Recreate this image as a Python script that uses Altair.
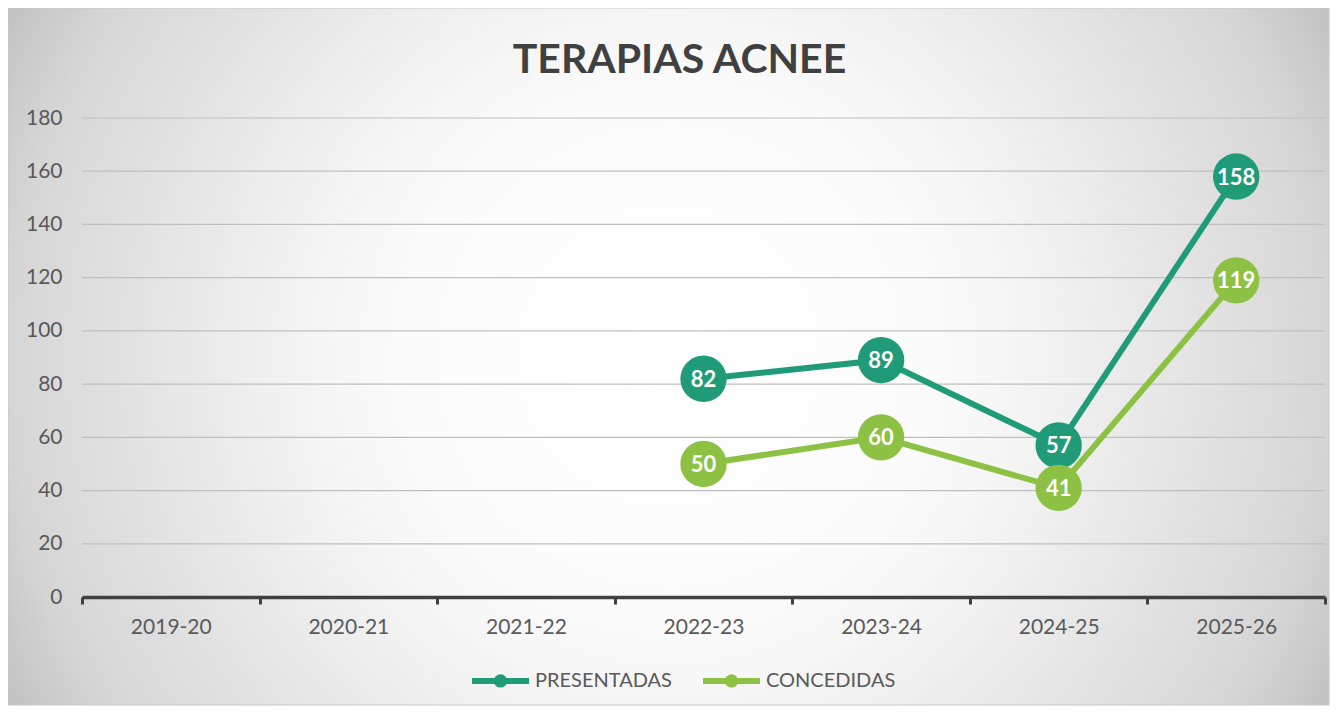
import altair as alt
import pandas as pd

years = ["2019-20", "2020-21", "2021-22", "2022-23", "2023-24", "2024-25", "2025-26"]
series = ["PRESENTADAS", "CONCEDIDAS"]
presentadas = [None, None, None, 82, 89, 57, 158]
concedidas = [None, None, None, 50, 60, 41, 119]
y_ticks = [0, 20, 40, 60, 80, 100, 120, 140, 160, 180]
colors = ["#1F9B78", "#8DC143"]

rows = []
for s, vals in zip(series, [presentadas, concedidas]):
    for yr, v in zip(years, vals):
        if v is not None:
            rows.append({"year": yr, "serie": s, "value": v})
df = pd.DataFrame(rows)
grid_df = pd.DataFrame({"value": y_ticks[1:]})

W, H = 1243, 479
PL, PT, PR, PB = 74, 110, 5, 109
FONT = "Lato"
LABEL = "#595959"

xscale = alt.Scale(type="band", domain=years, paddingInner=0, paddingOuter=0)
yscale = alt.Scale(domain=[0, 180], nice=False)
cscale = alt.Scale(domain=series, range=colors)

x_axis = alt.Axis(
    title=None, labelAngle=0, grid=False, domainColor="#404040", domainWidth=3.5,
    tickColor="#404040", tickWidth=3, tickSize=7, tickBand="extent",
    labelPadding=12, labelFont=FONT, labelFontSize=21, labelColor=LABEL, zindex=1,
)
y_axis = alt.Axis(
    title=None, values=y_ticks, grid=False, domain=False, ticks=False,
    labelPadding=20, labelFont=FONT, labelFontSize=21, labelColor=LABEL, zindex=1,
)

sym_path = "M-1,0L1,0M0.13,0A0.13,0.13,0,1,1,-0.13,0A0.13,0.13,0,1,1,0.13,0Z"
legend = alt.Legend(
    title=None, orient="none", legendX=387, legendY=531, direction="horizontal",
    symbolType=sym_path, symbolSize=3249, symbolStrokeWidth=6,
    labelFont=FONT, labelFontSize=20, labelColor=LABEL, labelOffset=3,
    columnPadding=19, zindex=1,
)

bg = alt.Chart(alt.Data(values=[{"a": 1}])).mark_rect(
    fill=alt.RadialGradient(
        gradient="radial", x1=0.5, y1=0.5, r1=0, x2=0.5, y2=0.5, r2=0.565,
        stops=[
            alt.GradientStop(offset=0, color="#FFFFFF"),
            alt.GradientStop(offset=0.35, color="#FBFBFB"),
            alt.GradientStop(offset=0.5, color="#F3F3F3"),
            alt.GradientStop(offset=0.88, color="#D6D6D6"),
            alt.GradientStop(offset=1, color="#C2C2C2"),
        ],
    ),
    stroke="#C8C8C8", strokeWidth=1,
).encode(
    x=alt.value(-PL), x2=alt.value(W + PR - 1),
    y=alt.value(-PT), y2=alt.value(H + PB - 1),
)

X = alt.X("year:N", scale=xscale, axis=x_axis, sort=years)
Y = alt.Y("value:Q", scale=yscale, axis=y_axis)

grid = alt.Chart(grid_df).mark_rule(color="#BFBFBF", strokeWidth=1.2).encode(y=Y)

base = alt.Chart(df)
lines = base.mark_line(strokeWidth=6).encode(
    x=X, y=Y, color=alt.Color("serie:N", scale=cscale, legend=legend, sort=series)
)
points = base.mark_circle(size=2150, opacity=1).encode(
    x=X, y=Y, color=alt.Color("serie:N", scale=cscale, legend=legend, sort=series)
)
labels = base.mark_text(
    font=FONT, fontSize=22, fontWeight="bold", color="white", baseline="middle", dy=1
).encode(x=X, y=Y, text="value:Q", detail="serie:N")

chart = alt.layer(bg, grid, lines, points, labels).properties(
    width=W, height=H,
    autosize=alt.AutoSizeParams(type="none"),
    padding={"left": PL, "top": PT, "right": PR, "bottom": PB},
    title=alt.Title(
        "TERAPIAS ACNEE", font=FONT, fontSize=41, fontWeight="bold", color="#404040",
        anchor="middle", frame="bounds", baseline="alphabetic", offset=-106, dx=11, zindex=1,
    ),
).configure_view(stroke=None)

chart.save("out.html", embed_options={"renderer": "svg", "actions": False})
